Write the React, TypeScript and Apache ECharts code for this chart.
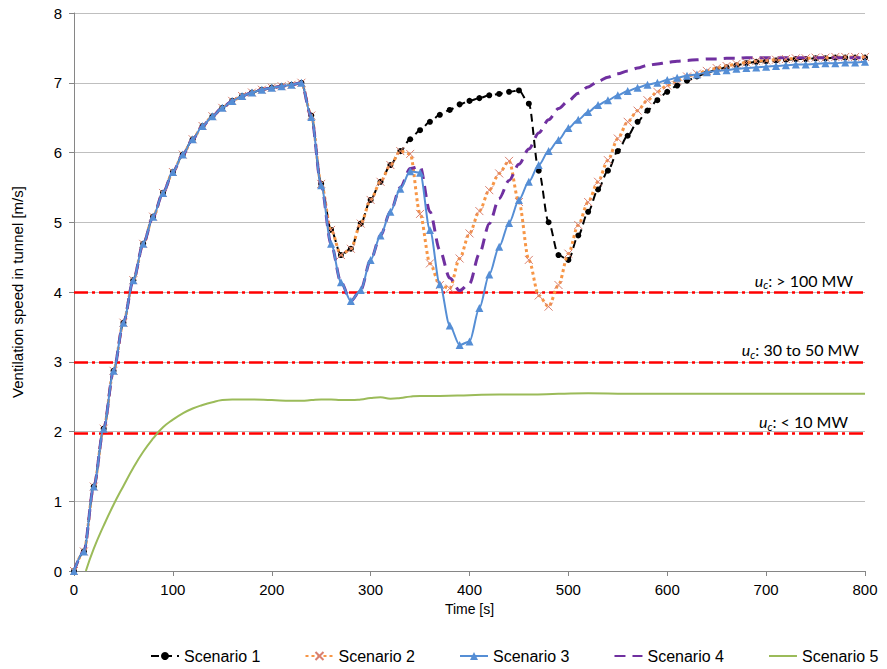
import React, { useEffect, useRef } from "react";
import * as echarts from "echarts";

const times: number[] = [];
for (let t = 0; t <= 800; t += 10) times.push(t);

// common rise 0..230 s
const commonRise = [0, 0.28, 1.21, 2.04, 2.87, 3.56, 4.17, 4.69, 5.08, 5.42, 5.72, 5.97, 6.19, 6.38, 6.52, 6.64, 6.74, 6.81, 6.86, 6.9, 6.93, 6.95, 6.97, 7.0];

// 240..800 s
const tail1 = [6.53, 5.55, 4.89, 4.53, 4.62, 4.98, 5.32, 5.58, 5.82, 6.02, 6.19, 6.32, 6.44, 6.54, 6.61, 6.69, 6.74, 6.78, 6.82, 6.84, 6.87, 6.89,
  6.7, 5.74, 5.0, 4.53, 4.46, 4.81, 5.15, 5.47, 5.74, 6.02, 6.24, 6.44, 6.6, 6.75, 6.87, 6.96, 7.03, 7.09, 7.14, 7.19, 7.22, 7.25, 7.28, 7.3, 7.31, 7.32, 7.33, 7.34, 7.34, 7.35, 7.35, 7.36, 7.36, 7.36, 7.36];
const tail2 = [6.53, 5.55, 4.89, 4.53, 4.62, 4.98, 5.32, 5.58, 5.82, 6.02, 5.98, 5.12, 4.41, 4.1, 4.05, 4.48, 4.84, 5.16, 5.46, 5.7, 5.88, 5.29,
  4.46, 3.95, 3.79, 4.1, 4.55, 4.96, 5.29, 5.58, 5.89, 6.2, 6.44, 6.6, 6.75, 6.87, 6.96, 7.03, 7.09, 7.13, 7.17, 7.21, 7.24, 7.27, 7.29, 7.31, 7.32, 7.33, 7.34, 7.35, 7.35, 7.36, 7.36, 7.37, 7.37, 7.37, 7.37];
const tail3 = [6.51, 5.53, 4.69, 4.14, 3.87, 4.03, 4.46, 4.81, 5.15, 5.48, 5.73, 5.71, 4.89, 4.11, 3.52, 3.24, 3.29, 3.77, 4.25, 4.65, 4.99, 5.32,
  5.58, 5.82, 6.02, 6.18, 6.35, 6.47, 6.58, 6.68, 6.75, 6.82, 6.88, 6.93, 6.97, 7.0, 7.04, 7.07, 7.1, 7.12, 7.15, 7.17, 7.18, 7.2, 7.21, 7.22, 7.23, 7.24, 7.25, 7.26, 7.26, 7.27, 7.28, 7.28, 7.29, 7.29, 7.3];
const tail4 = [6.51, 5.53, 4.69, 4.14, 3.87, 4.03, 4.46, 4.81, 5.15, 5.5, 5.77, 5.8, 5.15, 4.6, 4.2, 4.02, 4.12, 4.55, 4.98, 5.34, 5.6, 5.83,
  6.05, 6.28, 6.47, 6.63, 6.74, 6.85, 6.94, 7.02, 7.08, 7.13, 7.17, 7.21, 7.25, 7.27, 7.29, 7.31, 7.32, 7.33, 7.34, 7.34, 7.35, 7.35, 7.36, 7.36, 7.36, 7.36, 7.36, 7.36, 7.36, 7.36, 7.36, 7.36, 7.36, 7.36, 7.36];

const scenario1 = [...commonRise, ...tail1];
const scenario2 = [...commonRise, ...tail2];
const scenario3 = [...commonRise, ...tail3];
const scenario4 = [...commonRise, ...tail4];

const greenTimes = [12, 20, 30, 40, 50, 60, 70, 80, 90, 100, 110, 120, 130, 140, 150, 160, 170, 180, 200, 220, 230, 240, 250, 260, 270, 280, 290, 300, 310, 320, 330, 340, 350, 370, 400, 430, 460, 490, 520, 560, 600, 650, 700, 750, 800];
const scenario5 = [0, 0.32, 0.65, 0.95, 1.22, 1.48, 1.71, 1.9, 2.06, 2.17, 2.26, 2.33, 2.38, 2.42, 2.45, 2.46, 2.46, 2.46, 2.45, 2.44, 2.44, 2.45, 2.46, 2.46, 2.45, 2.45, 2.46, 2.48, 2.49, 2.47, 2.48, 2.5, 2.51, 2.51, 2.52, 2.53, 2.53, 2.54, 2.55, 2.54, 2.54, 2.54, 2.54, 2.54, 2.54];

const seriesNames = ["Scenario 1", "Scenario 2", "Scenario 3", "Scenario 4", "Scenario 5"];

const thresholds = [4.0, 3.0, 1.97];
const thresholdTexts = [": > 100 MW", ": 30 to 50 MW", ": < 10 MW"];
const thresholdPad = [10, 4, 15];

const xTicks = { min: 0, max: 800, interval: 100 };
const yTicks = { min: 0, max: 8, interval: 1 };

const FONT = "Liberation Sans, Arial, sans-serif";
const LFONT = "Lato, Open Sans, sans-serif";

export default function App() {
  const ref = useRef<HTMLDivElement>(null);
  useEffect(() => {
    if (!ref.current) return;
    const chart = echarts.init(ref.current, undefined, { renderer: "svg" });
    const pairs = (ts: number[], vs: number[]) => ts.map((t, i) => [t, vs[i]]);
    const hiddenSym = { color: "rgba(0,0,0,0)", borderColor: "rgba(0,0,0,0)", borderWidth: 0 };
    const option: any = {
      animation: false,
      backgroundColor: "#ffffff",
      grid: { left: 74, right: 22, top: 13, bottom: 98, containLabel: false },
      xAxis: {
        type: "value",
        min: xTicks.min,
        max: xTicks.max,
        interval: xTicks.interval,
        name: "Time [s]",
        nameLocation: "middle",
        nameGap: 31,
        nameTextStyle: { fontSize: 14, color: "#000", fontFamily: FONT },
        axisLine: { show: true, lineStyle: { color: "#868686", width: 1 } },
        axisTick: { show: true, length: 5, lineStyle: { color: "#868686" } },
        axisLabel: { fontSize: 15, color: "#000", fontFamily: FONT, margin: 11 },
        splitLine: { show: false },
      },
      yAxis: {
        type: "value",
        min: yTicks.min,
        max: yTicks.max,
        interval: yTicks.interval,
        name: "Ventilation speed in tunnel [m/s]",
        nameLocation: "middle",
        nameGap: 49,
        nameRotate: 90,
        nameTextStyle: { fontSize: 15, color: "#000", fontFamily: FONT },
        axisLine: { show: true, lineStyle: { color: "#868686", width: 1 } },
        axisTick: { show: true, length: 5, lineStyle: { color: "#868686" } },
        axisLabel: { fontSize: 15, color: "#000", fontFamily: FONT, margin: 12 },
        splitLine: { show: true, lineStyle: { color: "#BFBFBF", width: 1 } },
      },
      legend: {
        data: [
          { name: seriesNames[0] },
          { name: seriesNames[1] },
          { name: seriesNames[2] },
          { name: seriesNames[3], itemStyle: hiddenSym },
          { name: seriesNames[4], itemStyle: hiddenSym },
        ],
        left: 150,
        top: 648,
        width: 737,
        padding: 0,
        itemGap: 44,
        itemWidth: 28,
        itemHeight: 10,
        textStyle: { fontSize: 16, color: "#000", fontFamily: FONT },
      },
      series: [
        {
          name: seriesNames[0],
          type: "line",
          data: pairs(times, scenario1),
          smooth: 0.3,
          smoothMonotone: "x",
          symbol: "circle",
          symbolSize: 6,
          itemStyle: { color: "#000000" },
          lineStyle: { color: "#000000", width: 2, type: [8, 5] },
          z: 3,
        },
        {
          name: seriesNames[1],
          type: "line",
          data: pairs(times, scenario2),
          smooth: 0.3,
          smoothMonotone: "x",
          symbol: "path://M0 0L10 10M10 0L0 10",
          symbolSize: 8,
          itemStyle: { color: "rgba(0,0,0,0)", borderColor: "#D98070", borderWidth: 1 },
          lineStyle: { color: "#F79646", width: 3, type: [3, 3] },
          z: 4,
        },
        {
          name: seriesNames[2],
          type: "line",
          data: pairs(times, scenario3),
          smooth: 0.3,
          smoothMonotone: "x",
          symbol: "triangle",
          symbolSize: 8,
          itemStyle: { color: "#558ED5" },
          lineStyle: { color: "#558ED5", width: 2 },
          z: 5,
        },
        {
          name: seriesNames[3],
          type: "line",
          data: pairs(times, scenario4),
          smooth: 0.3,
          smoothMonotone: "x",
          symbol: "none",
          itemStyle: { color: "#7030A0" },
          lineStyle: { color: "#7030A0", width: 3, type: [11, 7] },
          z: 4,
        },
        {
          name: seriesNames[4],
          type: "line",
          data: pairs(greenTimes, scenario5),
          smooth: 0.5,
          symbol: "none",
          itemStyle: { color: "#9BBB59" },
          lineStyle: { color: "#9BBB59", width: 2 },
          z: 3,
          markLine: {
            silent: true,
            symbol: "none",
            animation: false,
            z: 2,
            lineStyle: { color: "#FF0000", width: 2.5, type: [14, 4, 3, 4] },
            data: thresholds.map((v, i) => ({
              yAxis: v,
              label: {
                show: true,
                position: "insideEndTop",
                distance: 2,
                padding: [0, thresholdPad[i], 0, 0],
                formatter: "{u|u}{c|c}{t|" + thresholdTexts[i] + "}",
                rich: {
                  u: { fontStyle: "italic", fontSize: 16, fontFamily: LFONT, color: "#000", lineHeight: 20 },
                  c: { fontStyle: "italic", fontSize: 11, fontFamily: LFONT, color: "#000", lineHeight: 20, padding: [9, 0, 0, 0] },
                  t: { fontSize: 16, fontFamily: LFONT, color: "#000", lineHeight: 20 },
                },
              },
            })),
          },
        },
      ],
    };
    chart.setOption(option);
    return () => chart.dispose();
  }, []);
  return <div ref={ref} style={{ position: "fixed", left: 0, top: 0, width: 887, height: 669 }} />;
}
